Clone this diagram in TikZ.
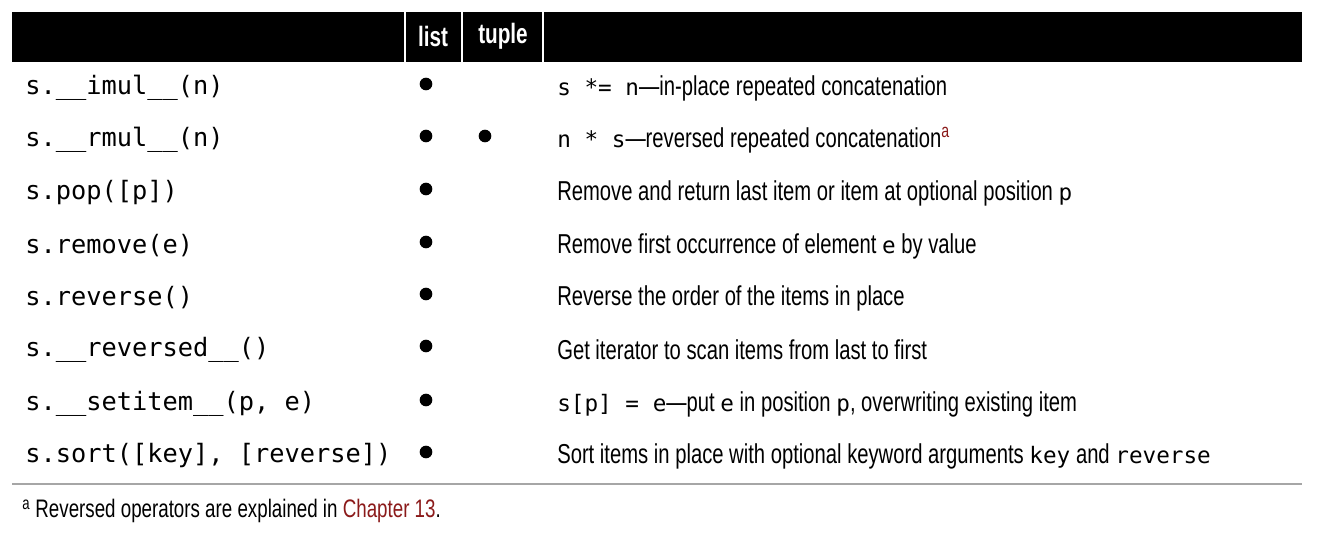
\documentclass[tikz,border=0pt]{standalone}
\usepackage{fontspec}
\setmainfont[FakeStretch=0.74]{Liberation Sans}
\setmonofont{DejaVu Sans Mono}
\definecolor{chap}{HTML}{8B1A1A}
\newcommand\mycd[1]{{\fontsize{17}{20}\ttfamily #1}}
\begin{document}
\begin{tikzpicture}[x=0.75pt,y=-0.75pt,
  code/.style={anchor=west,inner sep=0pt,font=\fontsize{19}{22}\ttfamily},
  desc/.style={anchor=west,inner sep=0pt,font=\fontsize{20.5}{22}\selectfont},
  hdr/.style={inner sep=0pt,text=white,font=\fontsize{21}{22}\selectfont\bfseries},
  dot/.style={circle,fill=black,inner sep=0pt,minimum size=9.5pt}]
\useasboundingbox (0,0) rectangle (1318,544);
\fill[black] (12,12) rectangle (1302,62);
\draw[white,line width=1.5pt] (405,12) -- (405,62) (462,12) -- (462,62) (543,12) -- (543,62);
\node[hdr] (hl) at (433,36) {list};
\node[hdr] (ht) at (503,36) {tuple};
\foreach \y/\c/\l/\t/\d in {
 88/{s.\_\_imul\_\_(n)}/1/0/{\mycd{s *= n}—in-place repeated concatenation},
 140/{s.\_\_rmul\_\_(n)}/1/1/{\mycd{n * s}—reversed repeated concatenation\textsuperscript{\textcolor{chap}{a}}},
 193/{s.pop([p])}/1/0/{Remove and return last item or item at optional position \mycd{p}},
 246/{s.remove(e)}/1/0/{Remove first occurrence of element \mycd{e} by value},
 298/{s.reverse()}/1/0/{Reverse the order of the items in place},
 350/{s.\_\_reversed\_\_()}/1/0/{Get iterator to scan items from last to first},
 404/{s.\_\_setitem\_\_(p, e)}/1/0/{\mycd{s[p] = e}—put \mycd{e} in position \mycd{p}, overwriting existing item},
 456/{s.sort([key], [reverse])}/1/0/{Sort items in place with optional keyword arguments \mycd{key} and \mycd{reverse}}}{
  \node[code] (c\y) at (25,\y) {\c};
  \node[desc] (d\y) at (557,\y) {\d};
  \ifnum\l=1 \node[dot] (l\y) at (426,\y-4) {};\fi
  \ifnum\t=1 \node[dot] (t\y) at (485,\y-4) {};\fi
}
\draw[gray!70,line width=0.8pt] (12,484) -- (1302,484);
\node[desc,font=\fontsize{19}{20}\selectfont] (fn) at (22,511) {\textsuperscript{a} Reversed operators are explained in \textcolor{chap}{Chapter 13}.};
\end{tikzpicture}
\end{document}
